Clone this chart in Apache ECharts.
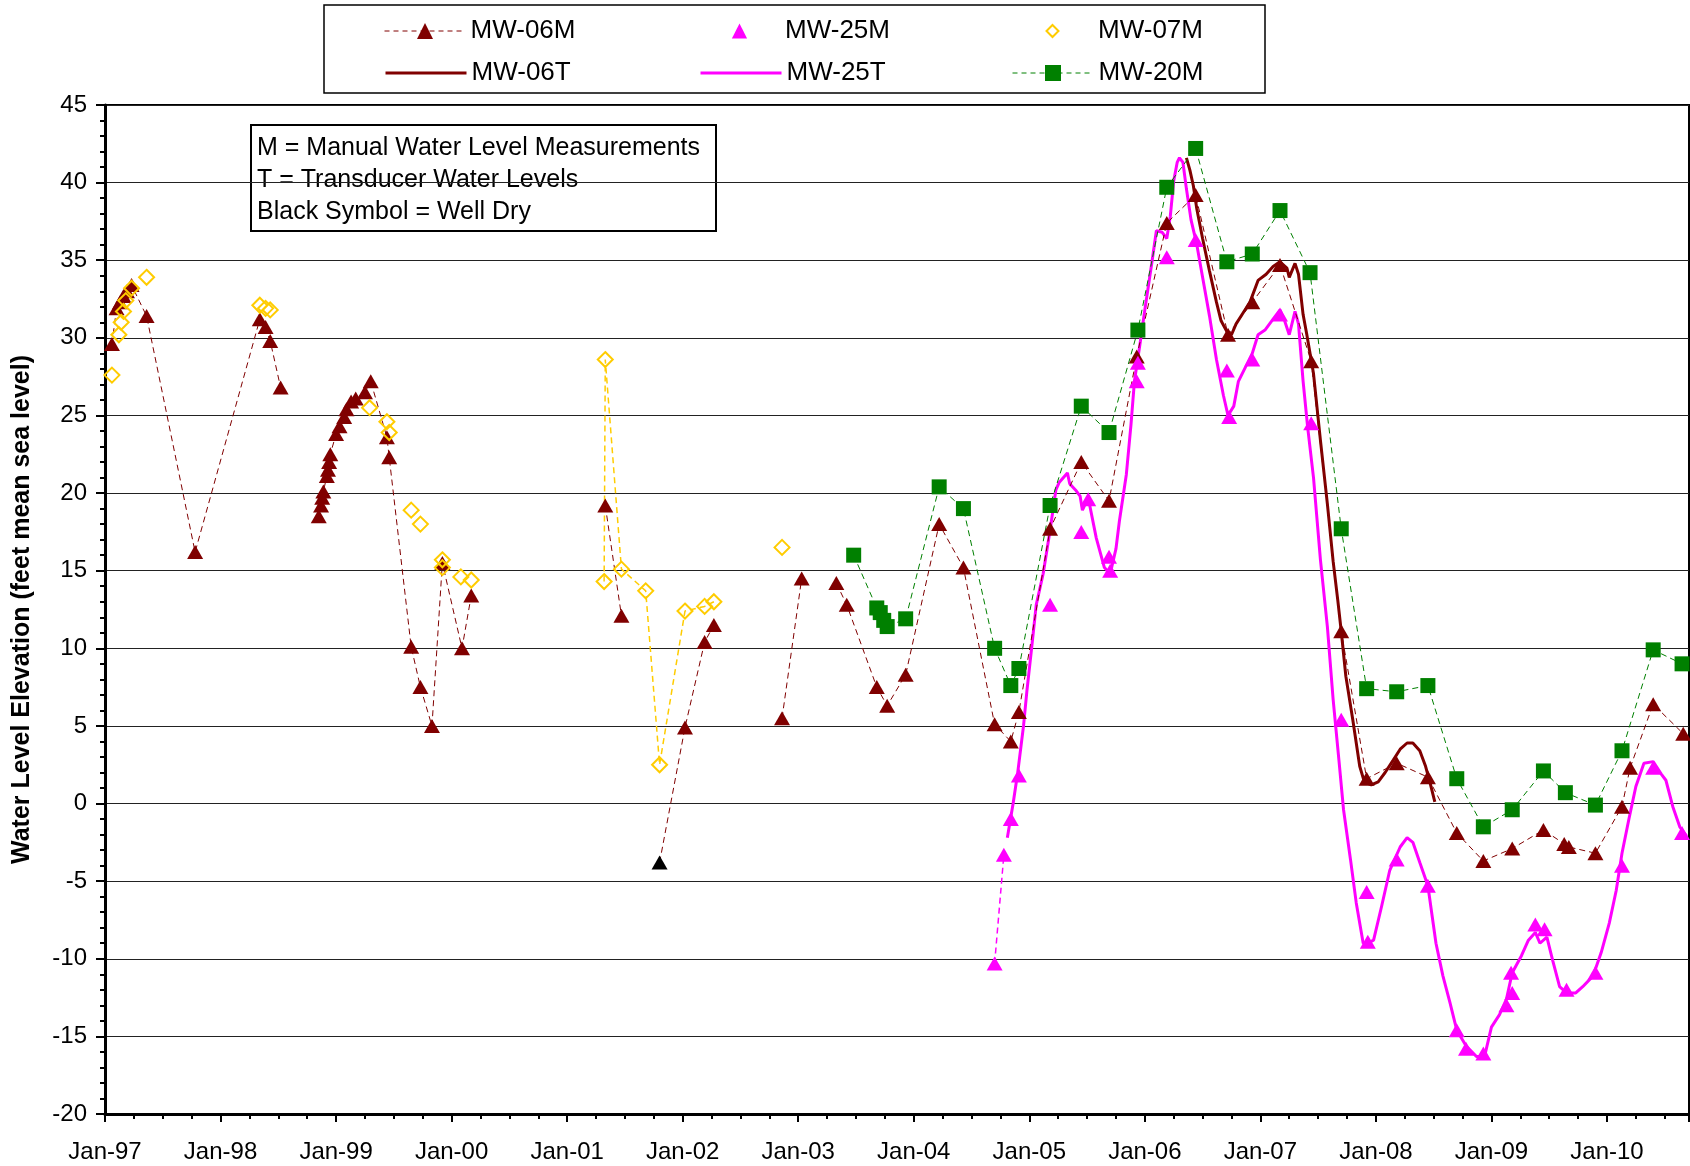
<!DOCTYPE html>
<html>
<head>
<meta charset="utf-8">
<script src="https://cdn.jsdelivr.net/npm/echarts/dist/echarts.min.js"></script>
<style>
    html, body { margin: 0; padding: 0; background: #fff; }
    #chart { width: 1690px; height: 1166px; }
</style>
</head>
<body>
<div id="chart"></div>
<script>
// dates are decimal years, levels in feet msl; null = gap in the dashed line
const mw06mYears = [
    1997.06, 1997.10, 1997.13, 1997.16, 1997.19, 1997.23, 1997.36, 1997.78, 1998.34, 1998.39, 1998.43, 1998.52,
    1998.70,
    1998.85, 1998.87, 1998.88, 1998.89, 1998.92, 1998.93, 1998.94, 1998.95, 1999.00, 1999.03, 1999.07, 1999.09,
    1999.13, 1999.17, 1999.25, 1999.30, 1999.44, 1999.46, 1999.65, 1999.73, 1999.83, 1999.92, 2000.09, 2000.17,
    2000.80,
    2001.33, 2001.47,
    2001.60,
    2001.80, 2002.02, 2002.19, 2002.27,
    2002.50,
    2002.86, 2003.03,
    2003.20,
    2003.33, 2003.42, 2003.68, 2003.77, 2003.93, 2004.22, 2004.43, 2004.70, 2004.84, 2004.91, 2005.18, 2005.45,
    2005.69, 2005.93, 2006.19, 2006.44, 2006.72, 2006.93, 2007.17, 2007.44, 2007.70, 2007.92, 2008.18, 2008.45,
    2008.70, 2008.93, 2009.18, 2009.45, 2009.63, 2009.67, 2009.90, 2010.13, 2010.20, 2010.40, 2010.66,
];
const mw06mLevels = [
    29.6, 31.9, 32.3, 32.7, 33.0, 33.4, 31.4, 16.2, 31.2, 30.7, 29.8, 26.8,
    null,
    18.5, 19.2, 19.7, 20.1, 21.1, 21.5, 22.0, 22.5, 23.8, 24.3, 24.9, 25.4,
    25.9, 26.1, 26.5, 27.2, 23.6, 22.3, 10.1, 7.5, 5.0, 15.5, 10.0, 13.4,
    null,
    19.2, 12.1,
    null,
    -3.8, 4.9, 10.4, 11.5,
    null,
    5.5, 14.5,
    null,
    14.2, 12.8, 7.5, 6.3, 8.3, 18.0, 15.2, 5.1, 4.0, 5.9, 17.7, 22.0,
    19.5, 28.8, 37.4, 39.2, 30.2, 32.3, 34.7, 28.5, 11.1, 1.6, 2.6, 1.7,
    -1.9, -3.7, -2.9, -1.7, -2.6, -2.8, -3.2, -0.2, 2.3, 6.4, 4.5,
];
const wellDryYear = 2001.80;

const mw25mYears = [
    2004.70, 2004.78, 2004.84, 2004.91, 2005.18, 2005.45, 2005.51, 2005.69, 2005.70, 2005.93, 2005.94, 2006.19,
    2006.44, 2006.71, 2006.73, 2006.93, 2007.17, 2007.44, 2007.70, 2007.92, 2007.93, 2008.18, 2008.45, 2008.70,
    2008.78, 2008.93, 2009.13, 2009.17, 2009.18, 2009.38, 2009.46, 2009.65, 2009.90, 2010.13, 2010.40, 2010.65,
];
const mw25mLevels = [
    -10.3, -3.3, -1.0, 1.8, 12.8, 17.5, 19.6, 15.9, 15.0, 27.2, 28.4, 35.2,
    36.3, 27.9, 24.9, 28.6, 31.5, 24.5, 5.4, -5.7, -8.9, -3.6, -5.3, -14.6,
    -15.8, -16.1, -13.0, -10.9, -12.2, -7.8, -8.1, -12.0, -10.9, -4.0, 2.3, -1.9,
];

const mw07mYears = [
    1997.06, 1997.12, 1997.14, 1997.16, 1997.18, 1997.23, 1997.36, 1998.34, 1998.39, 1998.43,
    1999.29, 1999.44, 1999.46, 1999.65, 1999.73, 1999.92, 1999.92, 2000.08, 2000.17,
    2001.32, 2001.33, 2001.47, 2001.68, 2001.80, 2002.02, 2002.19, 2002.27, 2002.86,
];
const mw07mLevels = [
    27.6, 30.2, 31.0, 31.7, 32.4, 33.2, 33.9, 32.1, 31.9, 31.8,
    25.5, 24.6, 23.9, 18.9, 18.0, 15.7, 15.2, 14.6, 14.4,
    14.3, 28.6, 15.1, 13.7, 2.5, 12.4, 12.7, 13.0, 16.5,
];
// only the 2001-2002 readings of MW-07M are joined by a line
const mw07mLinkedSpan = [2001.0, 2002.5];

const mw20mYears = [
    2003.48, 2003.68, 2003.71, 2003.74, 2003.77, 2003.93, 2004.22, 2004.43, 2004.70, 2004.84, 2004.91, 2005.18,
    2005.45, 2005.69, 2005.94, 2006.19, 2006.44, 2006.71, 2006.93, 2007.17, 2007.43, 2007.70, 2007.92, 2008.18,
    2008.45, 2008.70, 2008.93, 2009.18, 2009.45, 2009.64, 2009.90, 2010.13, 2010.40, 2010.65,
];
const mw20mLevels = [
    16.0, 12.6, 12.3, 11.8, 11.4, 11.9, 20.4, 19.0, 10.0, 7.6, 8.7, 19.2,
    25.6, 23.9, 30.5, 39.7, 42.2, 34.9, 35.4, 38.2, 34.2, 17.7, 7.4, 7.2,
    7.6, 1.6, -1.5, -0.4, 2.1, 0.7, -0.1, 3.4, 9.9, 9.0,
];

const mw06tYears = [
    2006.36, 2006.39, 2006.42, 2006.45, 2006.50, 2006.56, 2006.62, 2006.66, 2006.71, 2006.75,
    2006.79, 2006.85, 2006.91, 2006.98, 2007.05, 2007.11, 2007.17, 2007.23, 2007.25, 2007.30,
    2007.33, 2007.37, 2007.40, 2007.46, 2007.52, 2007.58, 2007.63, 2007.67, 2007.70, 2007.74,
    2007.80, 2007.86, 2007.90, 2007.96, 2008.02, 2008.08, 2008.15, 2008.21, 2008.27, 2008.32,
    2008.38, 2008.43, 2008.47, 2008.51,
];
const mw06tLevels = [
    41.6, 40.8, 39.8, 38.3, 36.4, 34.3, 32.3, 31.1, 30.4, 30.2,
    30.9, 31.6, 32.3, 33.7, 34.1, 34.6, 34.9, 34.5, 33.9, 34.8,
    34.1, 31.5, 30.3, 27.7, 23.4, 19.3, 15.6, 13.1, 11.1, 8.2,
    5.4, 2.4, 1.4, 1.2, 1.4, 2.0, 2.8, 3.5, 3.9, 3.9,
    3.4, 2.4, 1.3, 0.1,
];

const mw25tYears = [
    2004.81, 2004.86, 2004.90, 2004.95, 2004.98, 2005.02, 2005.06, 2005.12, 2005.18, 2005.23,
    2005.26, 2005.33, 2005.35, 2005.40, 2005.44, 2005.46, 2005.51, 2005.58, 2005.65, 2005.70,
    2005.75, 2005.78, 2005.84, 2005.88, 2005.91, 2005.96, 2006.00, 2006.06, 2006.10, 2006.15,
    2006.19, 2006.22, 2006.25, 2006.28, 2006.30, 2006.33, 2006.36, 2006.40, 2006.45, 2006.50,
    2006.56, 2006.62, 2006.68, 2006.72, 2006.77, 2006.81, 2006.87, 2006.93, 2006.98, 2007.04,
    2007.11, 2007.17, 2007.21, 2007.25, 2007.30, 2007.33, 2007.37, 2007.41, 2007.46, 2007.52,
    2007.58, 2007.63, 2007.68, 2007.72, 2007.78, 2007.83, 2007.89, 2007.93, 2007.98, 2008.05,
    2008.12, 2008.21, 2008.27, 2008.32, 2008.38, 2008.45, 2008.52, 2008.58, 2008.64, 2008.70,
    2008.78, 2008.87, 2008.94, 2009.00, 2009.07, 2009.13, 2009.18, 2009.26, 2009.32, 2009.38,
    2009.42, 2009.48, 2009.53, 2009.59, 2009.65, 2009.73, 2009.79, 2009.88, 2009.95, 2010.02,
    2010.08, 2010.13, 2010.19, 2010.25, 2010.32, 2010.40, 2010.47, 2010.51, 2010.57, 2010.63,
    2010.69,
];
const mw25tLevels = [
    -2.2, 0.0, 2.0, 5.0, 7.3, 10.0, 12.8, 14.8, 17.6, 20.2,
    20.7, 21.3, 20.6, 20.2, 19.8, 18.9, 19.7, 17.1, 15.2, 14.8,
    16.4, 18.2, 21.2, 24.4, 27.2, 29.7, 31.8, 34.8, 36.9, 36.8,
    36.4, 37.8, 40.1, 41.3, 41.6, 41.3, 39.6, 37.6, 36.0, 33.9,
    31.4, 28.6, 26.3, 25.0, 25.6, 27.2, 28.1, 29.0, 30.2, 30.5,
    31.2, 31.8, 31.1, 30.2, 31.7, 30.9, 27.2, 24.2, 21.0, 15.7,
    11.4, 6.7, 2.8, -0.4, -3.6, -6.4, -9.0, -9.0, -8.8, -6.6,
    -4.3, -2.8, -2.2, -2.5, -3.8, -5.3, -9.0, -11.1, -12.8, -14.6,
    -15.6, -16.3, -16.3, -14.4, -13.6, -12.6, -10.9, -9.8, -8.8, -8.3,
    -9.0, -8.6, -10.1, -11.8, -12.2, -12.2, -11.8, -11.1, -9.6, -7.7,
    -5.6, -3.2, -1.0, 1.1, 2.6, 2.7, 1.9, 1.5, -0.2, -1.5,
    -2.1,
];

const noteLines = ["M = Manual Water Level Measurements", "T = Transducer Water Levels", "Black Symbol = Well Dry"];

const DARK_RED = "#800000";
const MAGENTA = "#FF00FF";
const GOLD = "#FFCC00";
const GREEN = "#008000";
const FONT = '"Liberation Sans", Arial, sans-serif';

function pairs(xs, ys) {
    return xs.map((x, i) => [x, ys[i] === null ? "-" : ys[i]]);
}

const chart = echarts.init(document.getElementById("chart"), null, { renderer: "canvas" });

const mw06mData = mw06mYears.map((x, i) => {
    const v = mw06mLevels[i];
    if (v === null) return [x, "-"];
    if (x === wellDryYear) return { value: [x, v], itemStyle: { color: "#000" } };
    return [x, v];
});
const mw07mLinkData = pairs(mw07mYears, mw07mLevels).filter((p) => p[0] > mw07mLinkedSpan[0] && p[0] < mw07mLinkedSpan[1]);

// one legend per entry so each sits in its own column/row like the original
function legendAt(name, left, top, itemHeight, extra) {
    return {
        show: true,
        data: [Object.assign({ name: name }, extra || {})],
        left: left,
        top: top,
        padding: 0,
        itemWidth: 81,
        itemHeight: itemHeight,
        itemGap: 0,
        selectedMode: false,
        textStyle: { fontSize: 26, color: "#000", fontFamily: FONT },
    };
}

const hiddenLine = { opacity: 0, width: 0 };

const option = {
    animation: false,
    backgroundColor: "#fff",
    textStyle: { fontFamily: FONT },
    grid: {
        left: 105,
        top: 105,
        width: 1584,
        height: 1009,
        show: true,
        borderColor: "#000",
        borderWidth: 2,
        containLabel: false,
    },
    legend: [
        legendAt("MW-06M", 384, 18, 20, { lineStyle: { width: 1, type: [5, 4] } }),
        legendAt("MW-06T", 384, 60, 20, { itemStyle: { opacity: 0 }, lineStyle: { width: 3, type: "solid" } }),
        legendAt("MW-25M", 699, 18, 19, { lineStyle: hiddenLine }),
        legendAt("MW-25T", 699, 60, 19, { itemStyle: { opacity: 0 }, lineStyle: { width: 3, type: "solid" } }),
        legendAt("MW-07M", 1012, 18, 15, { lineStyle: hiddenLine }),
        legendAt("MW-20M", 1012, 60, 20, { lineStyle: { width: 1, type: [5, 4] } }),
    ],
    xAxis: {
        type: "value",
        min: 1997,
        max: 2010.71,
        interval: 1,
        axisLine: { show: true, onZero: false, lineStyle: { color: "#000", width: 3 } },
        axisTick: { show: true, length: 8, lineStyle: { color: "#000", width: 2 } },
        minorTick: { show: true, splitNumber: 4, length: 5, lineStyle: { color: "#000", width: 2 } },
        splitLine: { show: false },
        axisLabel: {
            fontSize: 24,
            color: "#000",
            fontFamily: FONT,
            margin: 26,
            showMaxLabel: false,
            formatter: (v) => (Number.isInteger(v) ? "Jan-" + String(v).slice(2) : ""),
        },
    },
    yAxis: {
        type: "value",
        min: -20,
        max: 45,
        interval: 5,
        name: "Water Level Elevation (feet mean sea level)",
        nameLocation: "middle",
        nameGap: 70,
        nameTextStyle: { fontSize: 25, fontWeight: "bold", color: "#000", fontFamily: FONT },
        axisLine: { show: true, onZero: false, lineStyle: { color: "#000", width: 3 } },
        axisTick: { show: true, length: 9, lineStyle: { color: "#000", width: 2 } },
        minorTick: { show: true, splitNumber: 5, length: 5, lineStyle: { color: "#000", width: 2 } },
        splitLine: { show: true, lineStyle: { color: "#222", width: 1 } },
        axisLabel: { fontSize: 24, color: "#000", fontFamily: FONT, margin: 18 },
    },
    graphic: [
        {
            type: "rect",
            shape: { x: 324, y: 5, width: 941, height: 88 },
            style: { fill: "#fff", stroke: "#000", lineWidth: 1.5 },
            z: 0,
        },
        {
            type: "group",
            z: 20,
            children: [
                {
                    type: "rect",
                    shape: { x: 251, y: 125, width: 465, height: 106 },
                    style: { fill: "#fff", stroke: "#000", lineWidth: 2 },
                },
            ].concat(
                noteLines.map((t, i) => ({
                    type: "text",
                    x: 257,
                    y: 148 + i * 32,
                    style: { text: t, font: "25px " + FONT, fill: "#000", verticalAlign: "middle" },
                }))
            ),
        },
    ],
    series: [
        {
            name: "MW-06T",
            type: "line",
            data: pairs(mw06tYears, mw06tLevels),
            symbol: "none",
            lineStyle: { color: DARK_RED, width: 3 },
            itemStyle: { color: DARK_RED },
            z: 3,
        },
        {
            name: "MW-25T",
            type: "line",
            data: pairs(mw25tYears, mw25tLevels),
            symbol: "none",
            lineStyle: { color: MAGENTA, width: 3 },
            itemStyle: { color: MAGENTA },
            z: 3,
        },
        {
            name: "MW-25M link",
            type: "line",
            data: pairs(mw25mYears.slice(0, 2), mw25mLevels.slice(0, 2)),
            symbol: "none",
            lineStyle: { color: MAGENTA, width: 1.5, type: [6, 4] },
            z: 3,
        },
        {
            name: "MW-07M link",
            type: "line",
            data: mw07mLinkData,
            symbol: "none",
            lineStyle: { color: GOLD, width: 1.5, type: [6, 4] },
            z: 3,
        },
        {
            name: "MW-06M",
            type: "line",
            data: mw06mData,
            connectNulls: false,
            symbol: "triangle",
            symbolSize: [16, 14],
            itemStyle: { color: DARK_RED },
            lineStyle: { color: DARK_RED, width: 1, type: [6, 4] },
            z: 4,
        },
        {
            name: "MW-20M",
            type: "line",
            data: pairs(mw20mYears, mw20mLevels),
            symbol: "rect",
            symbolSize: 15,
            itemStyle: { color: GREEN },
            lineStyle: { color: GREEN, width: 1, type: [6, 4] },
            z: 4,
        },
        {
            // markers only: drawn as a line series with an invisible line
            name: "MW-25M",
            type: "line",
            data: pairs(mw25mYears, mw25mLevels),
            symbol: "triangle",
            symbolSize: [16, 14],
            itemStyle: { color: MAGENTA },
            lineStyle: hiddenLine,
            z: 5,
        },
        {
            name: "MW-07M",
            type: "line",
            data: pairs(mw07mYears, mw07mLevels),
            symbol: "diamond",
            symbolSize: 15,
            itemStyle: { color: "rgba(255,255,255,0)", borderColor: GOLD, borderWidth: 2 },
            lineStyle: hiddenLine,
            z: 6,
        },
    ],
};

chart.setOption(option);
</script>
</body>
</html>
